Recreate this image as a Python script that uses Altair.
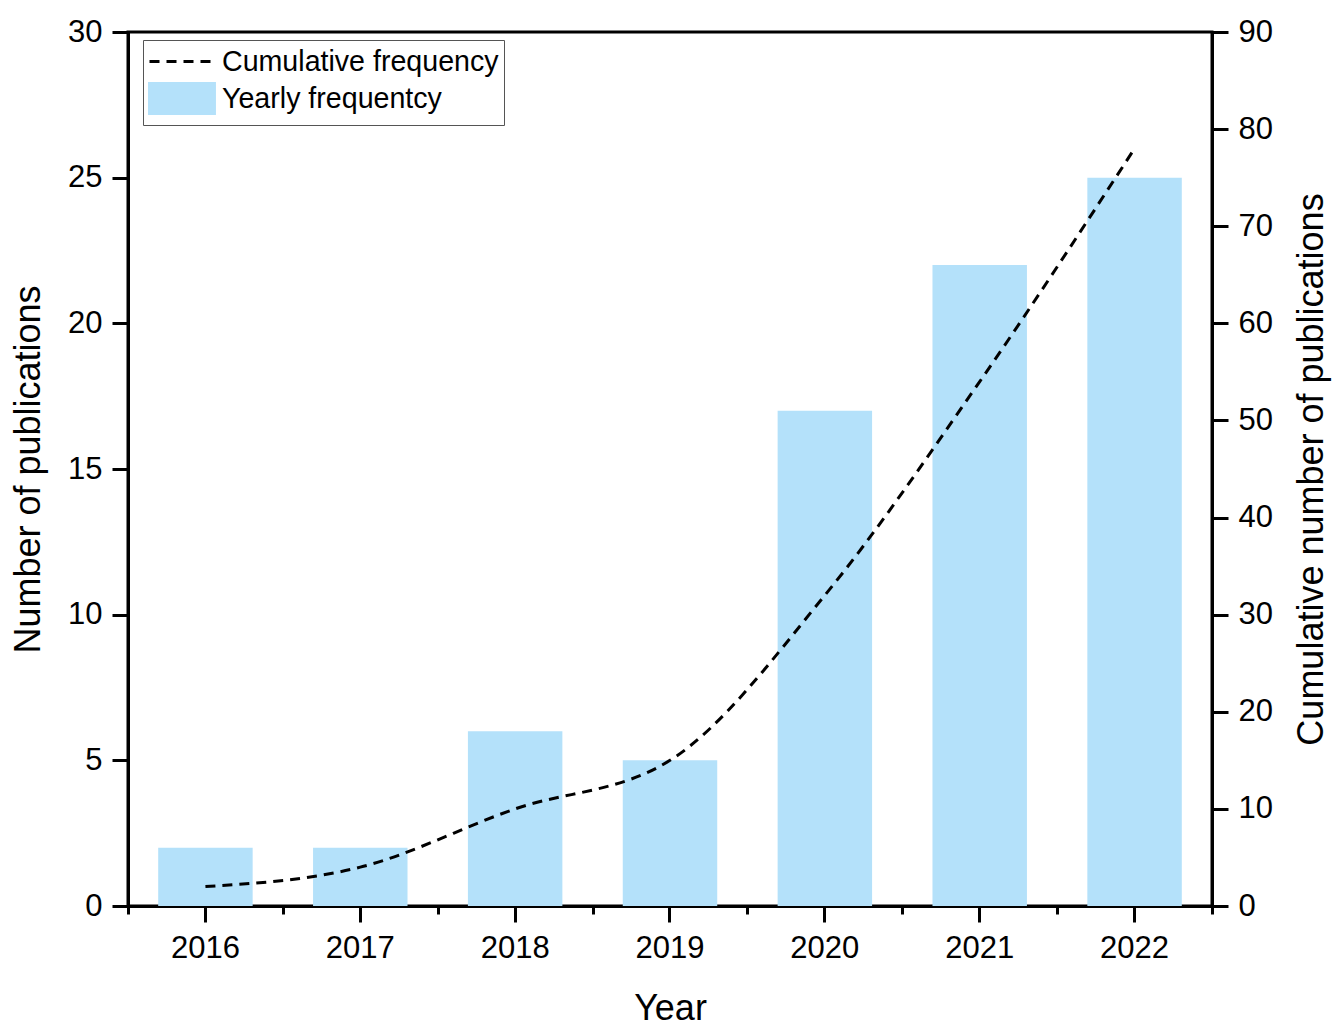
import altair as alt
import pandas as pd

# ---- data ----
years = ["2016", "2017", "2018", "2019", "2020", "2021", "2022"]
yearly = [2, 2, 6, 5, 17, 22, 25]
cumulative = [2, 4, 10, 15, 32, 54, 78]
left_ticks = [0, 5, 10, 15, 20, 25, 30]
right_ticks = [0, 10, 20, 30, 40, 50, 60, 70, 80, 90]
minor_ticks = [2015.5, 2016.5, 2017.5, 2018.5, 2019.5, 2020.5, 2021.5, 2022.5]
series = ["Cumulative frequency", "Yearly frequentcy"]

df = pd.DataFrame({
    "Year": years,
    "YearNum": [int(y) for y in years],
    "Yearly": yearly,
    "Cumulative": cumulative,
})

FONT = "Liberation Sans"
BAR = "#b4e1fa"
DASH = [10, 7]
LINE_SYMBOL = "M-1,0H3.53"
RECT_SYMBOL = "M-1,-1H3.33V1H-1Z"

band = alt.Scale(paddingInner=0.39, paddingOuter=0.195)
color_scale = alt.Scale(domain=series, range=["black", BAR])
dash_scale = alt.Scale(domain=series, range=[DASH, [1, 0]])
shape_scale = alt.Scale(domain=series, range=[LINE_SYMBOL, RECT_SYMBOL])

legend = alt.Legend(
    title=None, orient="none", legendX=15, legendY=8, direction="vertical",
    labelFont=FONT, labelFontSize=28.6, labelColor="black", labelOffset=41, labelLimit=500,
    symbolSize=900, symbolStrokeWidth=3, symbolOpacity=1,
    symbolFillColor=BAR, symbolStrokeColor="black",
    padding=5, rowPadding=0,
    strokeColor="#555555", fillColor="white",
)

bars = alt.Chart(df).transform_calculate(series="'Yearly frequentcy'").mark_bar(opacity=1).encode(
    x=alt.X("Year:N", scale=band, title="Year",
            axis=alt.Axis(orient="bottom", labelAngle=0, tickSize=16, labelPadding=11,
                          titlePadding=28)),
    y=alt.Y("Yearly:Q", scale=alt.Scale(domain=[0, 30], nice=False),
            title="Number of publications",
            axis=alt.Axis(orient="left", values=left_ticks, tickSize=16, labelPadding=10,
                          titlePadding=20)),
    color=alt.Color("series:N", scale=color_scale, legend=legend),
)

line = alt.Chart(df).transform_calculate(series="'Cumulative frequency'").mark_line(
    strokeWidth=3, interpolate="monotone"
).encode(
    x=alt.X("Year:N", scale=band, axis=None),
    y=alt.Y("Cumulative:Q", scale=alt.Scale(domain=[0, 90], nice=False),
            title="Cumulative number of publications",
            axis=alt.Axis(orient="right", values=right_ticks, tickSize=16, labelPadding=10,
                          titlePadding=22, titleAngle=270, titleBaseline="top")),
    color=alt.Color("series:N", scale=color_scale, legend=legend),
    strokeDash=alt.StrokeDash("series:N", scale=dash_scale, legend=legend),
)

# carries only the legend symbol shapes (no rows survive the filter)
shapes = alt.Chart(df).transform_calculate(series="'Yearly frequentcy'").transform_filter(
    "false"
).mark_point(filled=True).encode(
    x=alt.value(0), y=alt.value(0),
    color=alt.Color("series:N", scale=color_scale, legend=legend),
    shape=alt.Shape("series:N", scale=shape_scale, legend=legend),
)

minor = alt.Chart(df).mark_point(opacity=0).encode(
    x=alt.X("YearNum:Q", scale=alt.Scale(domain=[2015.5, 2022.5], nice=False, zero=False),
            axis=alt.Axis(orient="bottom", values=minor_ticks, labels=False, domain=False,
                          tickSize=8, title=None, grid=False)),
    y=alt.value(0),
)

chart = alt.layer(bars, line, shapes, minor).resolve_scale(
    x="independent", y="independent"
).properties(
    width=1084, height=874,
    autosize=alt.AutoSizeParams(type="none"),
    padding={"left": 120, "top": 24, "right": 120, "bottom": 124},
).configure_view(
    stroke="black", strokeWidth=3
).configure_axis(
    grid=False, domainColor="black", domainWidth=3, tickColor="black", tickWidth=3,
    labelFont=FONT, labelFontSize=31, labelColor="black",
    titleFont=FONT, titleFontSize=36, titleFontWeight="normal", titleColor="black",
)

chart.save("out.html", embed_options={"renderer": "svg", "actions": False})
